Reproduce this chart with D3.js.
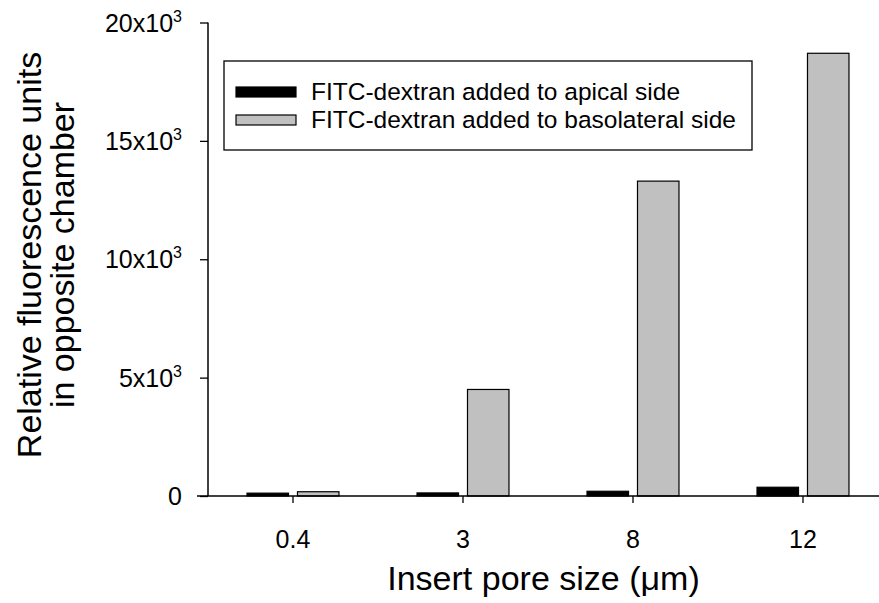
<!DOCTYPE html>
<html>
<head>
<meta charset="utf-8">
<script src="https://cdn.jsdelivr.net/npm/d3@7"></script>
<style>
  html, body { margin: 0; padding: 0; background: #fff; }
  svg { display: block; font-family: Arial, "Liberation Sans", sans-serif; }
</style>
</head>
<body>
<svg id="chart" width="879" height="603"></svg>
<script>
// Pore sizes of the inserts (µm)
const categories = ["0.4", "3", "8", "12"];
// Fluorescence measured in the opposite chamber
const apical = [120, 130, 200, 370];
const basolateral = [180, 4500, 13300, 18700];
const seriesKeys = ["apical", "basolateral"];
const seriesNames = ["FITC-dextran added to apical side", "FITC-dextran added to basolateral side"];
const seriesColors = ["#000000", "#c0c0c0"];
const yTicks = [0, 5000, 10000, 15000, 20000];
const xTitle = "Insert pore size (\u03bcm)";
const yTitle = ["Relative fluorescence units", "in opposite chamber"];

const svg = d3.select("#chart");
const plotLeft = 208, plotRight = 888, plotTop = 22.5, plotBottom = 496;

const x = d3.scaleBand().domain(categories).range([plotLeft, plotRight])
  .paddingInner(0.459).paddingOuter(0.2295);
const x1 = d3.scaleBand().domain(seriesKeys).range([0, x.bandwidth()]).paddingInner(0.178);
const y = d3.scaleLinear().domain([0, 20000]).range([plotBottom, plotTop]);
const color = d3.scaleOrdinal().domain(seriesKeys).range(seriesColors);

const rows = categories.map((c, i) => ({ cat: c, apical: apical[i], basolateral: basolateral[i] }));

// Bars
const groups = svg.append("g").selectAll("g").data(rows).join("g")
  .attr("transform", d => `translate(${x(d.cat)},0)`);
groups.selectAll("rect")
  .data(d => seriesKeys.map(k => ({ key: k, value: d[k] })))
  .join("rect")
  .attr("x", d => x1(d.key))
  .attr("width", x1.bandwidth())
  .attr("y", d => y(d.value))
  .attr("height", d => y(0) - y(d.value))
  .attr("fill", d => color(d.key))
  .attr("stroke", "#000")
  .attr("stroke-width", 1.2);

// Y axis
const yAxis = svg.append("g").attr("transform", `translate(${plotLeft},0)`)
  .call(d3.axisLeft(y).tickValues(yTicks).tickSize(8).tickFormat(""));
yAxis.select(".domain").remove();
yAxis.selectAll(".tick line").attr("stroke", "#000").attr("stroke-width", 1.3);
yAxis.append("line").attr("x1", 0).attr("x2", 0).attr("y1", y(20000)).attr("y2", y(0))
  .attr("stroke", "#000").attr("stroke-width", 1.5);

// X axis
const xAxis = svg.append("g").attr("transform", `translate(0,${y(0)})`)
  .call(d3.axisBottom(x).tickSize(7).tickSizeOuter(0).tickFormat(""));
xAxis.select(".domain").remove();
xAxis.selectAll(".tick line").attr("stroke", "#000").attr("stroke-width", 1.3);
xAxis.append("line").attr("x1", 197).attr("x2", 879).attr("y1", 0).attr("y2", 0)
  .attr("stroke", "#000").attr("stroke-width", 1.6);

function label(px, py, anchor, size) {
  return svg.append("text").attr("x", px).attr("y", py)
    .attr("text-anchor", anchor).attr("font-size", size).attr("fill", "#000");
}

// X tick labels
categories.forEach(c => {
  label(x(c) + x.bandwidth() / 2, 548, "middle", 25).text(c);
});

// Y tick labels with superscript exponent
yTicks.forEach(v => {
  const t = label(182, y(v) + 9, "end", 25);
  if (v === 0) { t.text("0"); return; }
  t.append("tspan").text(`${v / 1000}x10`);
  t.append("tspan").attr("font-size", 16).attr("dy", -10).text("3");
});

// Axis titles
label((plotLeft + 879) / 2, 590, "middle", 34).text(xTitle);
yTitle.forEach((line, i) => {
  svg.append("text")
    .attr("transform", `translate(${[41, 74][i]},${255}) rotate(-90)`)
    .attr("text-anchor", "middle").attr("font-size", 34).attr("fill", "#000")
    .text(line);
});

// Legend
const legend = svg.append("g");
legend.append("rect").attr("x", 224).attr("y", 61).attr("width", 528).attr("height", 89)
  .attr("fill", "#fff").attr("stroke", "#000").attr("stroke-width", 1.3);
seriesKeys.forEach((k, i) => {
  const base = 100 + i * 28;
  legend.append("rect").attr("x", 236).attr("y", base - 13).attr("width", 60).attr("height", 10)
    .attr("fill", color(k)).attr("stroke", "#000").attr("stroke-width", 1.2);
  label(311, base, "start", 24.5).text(seriesNames[i]);
});
</script>
</body>
</html>
